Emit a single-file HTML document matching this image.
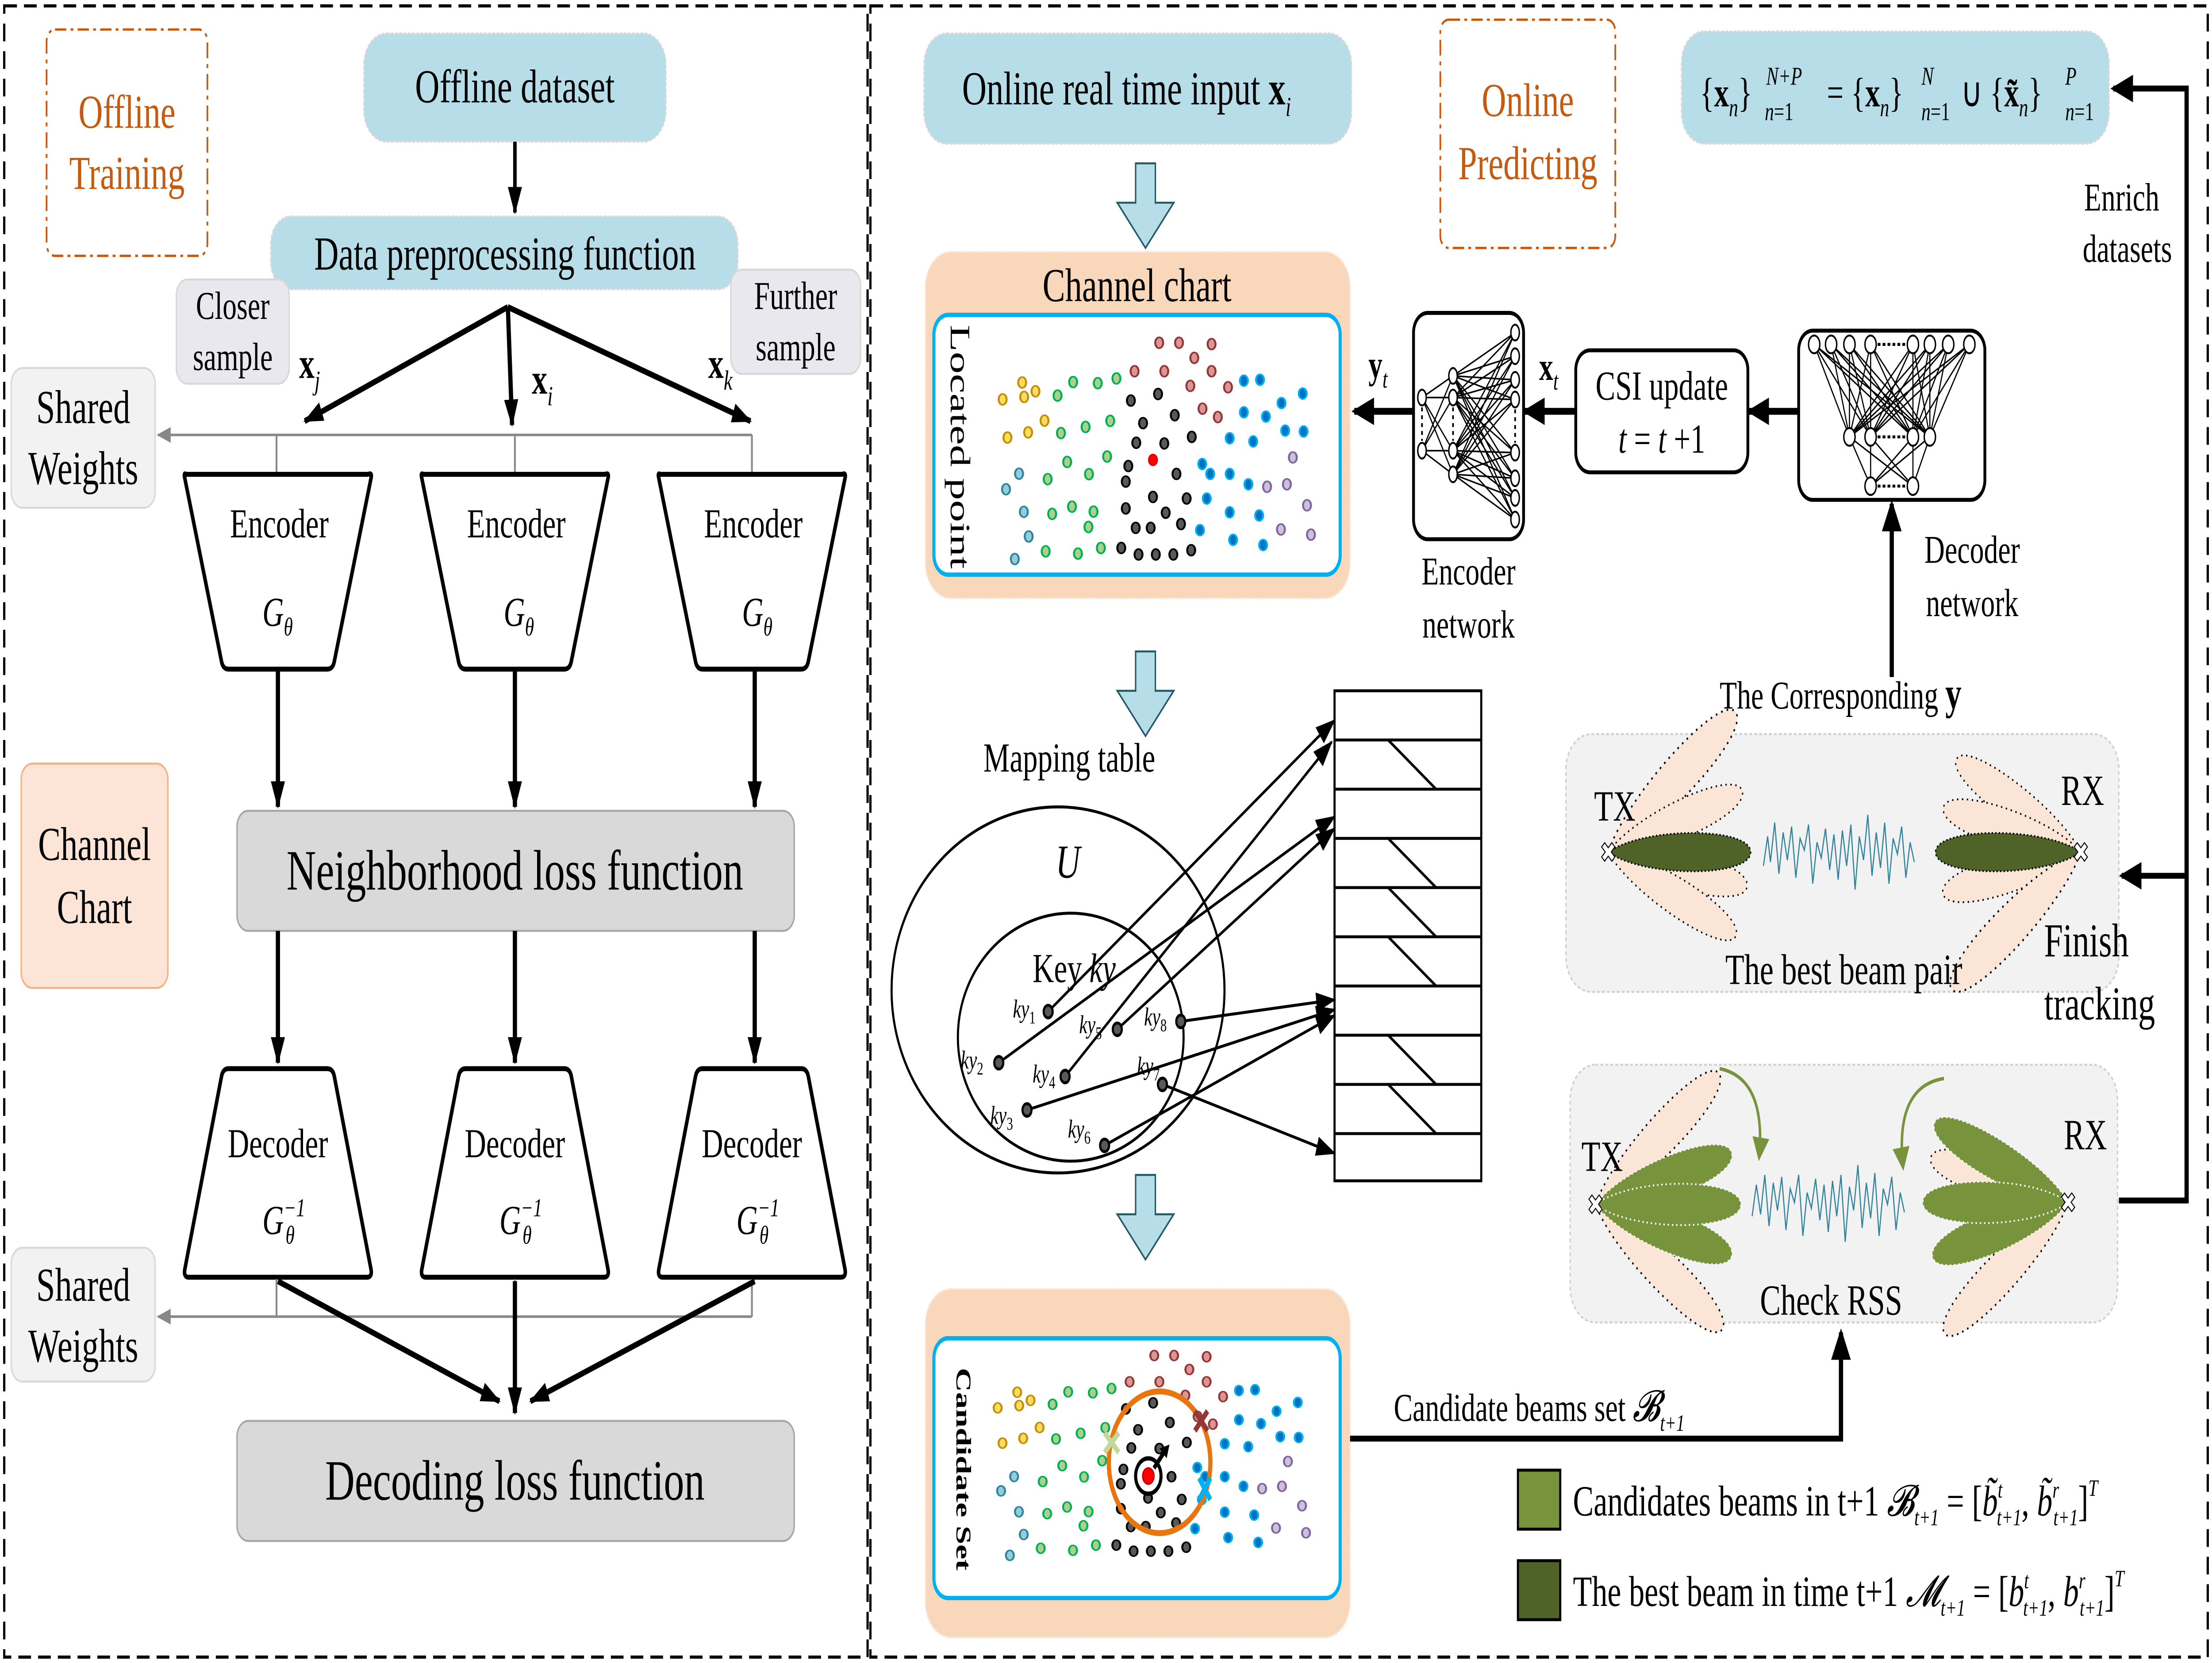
<!DOCTYPE html>
<html><head><meta charset="utf-8"><style>html,body{margin:0;padding:0;background:#fff;width:100%;height:100%;overflow:hidden}svg{display:block;width:100vw;height:100vh}text{font-family:"Liberation Serif",serif}</style></head><body>
<svg viewBox="0 0 1568 845" preserveAspectRatio="none" xmlns="http://www.w3.org/2000/svg">
<defs>
<marker id="ah" markerUnits="userSpaceOnUse" markerWidth="16" markerHeight="14" refX="14" refY="7" orient="auto"><path d="M0,0 L16,7 L0,14 Z" fill="#000"/></marker>
<marker id="ahs" markerUnits="userSpaceOnUse" markerWidth="14" markerHeight="10" refX="13" refY="5" orient="auto"><path d="M0,0 L14,5 L0,10 Z" fill="#000"/></marker>
<marker id="ahg" markerUnits="userSpaceOnUse" markerWidth="10" markerHeight="8" refX="9" refY="4" orient="auto"><path d="M0,0 L10,4 L0,8 Z" fill="#888"/></marker>
<marker id="ahgr" markerUnits="userSpaceOnUse" markerWidth="12" markerHeight="12" refX="10" refY="6" orient="auto"><path d="M0,0 L12,6 L0,12 Z" fill="#77933c"/></marker>
<g id="dots" stroke-width="7" vector-effect="non-scaling-stroke">
<g stroke="#943634" fill="#d99694"><ellipse cx="868" cy="460" rx="14" ry="24"/><ellipse cx="938" cy="460" rx="14" ry="24"/><ellipse cx="1053" cy="466" rx="14" ry="24"/><ellipse cx="992" cy="527" rx="14" ry="24"/><ellipse cx="781" cy="586" rx="14" ry="24"/><ellipse cx="886" cy="586" rx="14" ry="24"/><ellipse cx="1053" cy="586" rx="14" ry="24"/><ellipse cx="978" cy="651" rx="14" ry="24"/><ellipse cx="1111" cy="657" rx="14" ry="24"/><ellipse cx="1021" cy="752" rx="14" ry="24"/><ellipse cx="1075" cy="789" rx="14" ry="24"/></g>
<g stroke="#bf9000" fill="#ffd966"><ellipse cx="384" cy="636" rx="14" ry="24"/><ellipse cx="431" cy="675" rx="14" ry="24"/><ellipse cx="315" cy="711" rx="14" ry="24"/><ellipse cx="391" cy="700" rx="14" ry="24"/><ellipse cx="463" cy="805" rx="14" ry="24"/><ellipse cx="332" cy="880" rx="14" ry="24"/><ellipse cx="405" cy="857" rx="14" ry="24"/></g>
<g stroke="#00b050" fill="#a9d08e"><ellipse cx="564" cy="634" rx="14" ry="24"/><ellipse cx="651" cy="639" rx="14" ry="24"/><ellipse cx="717" cy="618" rx="14" ry="24"/><ellipse cx="509" cy="694" rx="14" ry="24"/><ellipse cx="608" cy="833" rx="14" ry="24"/><ellipse cx="695" cy="806" rx="14" ry="24"/><ellipse cx="521" cy="860" rx="14" ry="24"/><ellipse cx="543" cy="988" rx="14" ry="24"/><ellipse cx="684" cy="964" rx="14" ry="24"/><ellipse cx="620" cy="1042" rx="14" ry="24"/><ellipse cx="474" cy="1064" rx="14" ry="24"/><ellipse cx="560" cy="1186" rx="14" ry="24"/><ellipse cx="636" cy="1208" rx="14" ry="24"/><ellipse cx="490" cy="1218" rx="14" ry="24"/><ellipse cx="618" cy="1276" rx="14" ry="24"/><ellipse cx="467" cy="1384" rx="14" ry="24"/><ellipse cx="581" cy="1394" rx="14" ry="24"/><ellipse cx="662" cy="1369" rx="14" ry="24"/></g>
<g stroke="#31849b" fill="#92cddc"><ellipse cx="373" cy="1040" rx="14" ry="24"/><ellipse cx="327" cy="1109" rx="14" ry="24"/><ellipse cx="390" cy="1209" rx="14" ry="24"/><ellipse cx="407" cy="1318" rx="14" ry="24"/><ellipse cx="358" cy="1418" rx="14" ry="24"/></g>
<g stroke="#000" fill="#595959"><ellipse cx="768" cy="716" rx="14" ry="24"/><ellipse cx="864" cy="687" rx="14" ry="24"/><ellipse cx="923" cy="781" rx="14" ry="24"/><ellipse cx="811" cy="816" rx="14" ry="24"/><ellipse cx="787" cy="903" rx="14" ry="24"/><ellipse cx="886" cy="906" rx="14" ry="24"/><ellipse cx="983" cy="877" rx="14" ry="24"/><ellipse cx="759" cy="1006" rx="14" ry="24"/><ellipse cx="929" cy="1041" rx="14" ry="24"/><ellipse cx="750" cy="1075" rx="14" ry="24"/><ellipse cx="846" cy="1143" rx="14" ry="24"/><ellipse cx="965" cy="1150" rx="14" ry="24"/><ellipse cx="750" cy="1194" rx="14" ry="24"/><ellipse cx="891" cy="1213" rx="14" ry="24"/><ellipse cx="785" cy="1280" rx="14" ry="24"/><ellipse cx="838" cy="1280" rx="14" ry="24"/><ellipse cx="945" cy="1263" rx="14" ry="24"/><ellipse cx="734" cy="1369" rx="14" ry="24"/><ellipse cx="795" cy="1398" rx="14" ry="24"/><ellipse cx="856" cy="1398" rx="14" ry="24"/><ellipse cx="918" cy="1398" rx="14" ry="24"/><ellipse cx="981" cy="1379" rx="14" ry="24"/></g>
<g stroke="#e00" fill="#f00"><ellipse cx="846" cy="979" rx="14" ry="24"/></g>
<g stroke="#00b0f0" fill="#0070c0"><ellipse cx="1167" cy="628" rx="14" ry="24"/><ellipse cx="1224" cy="624" rx="14" ry="24"/><ellipse cx="1375" cy="685" rx="14" ry="24"/><ellipse cx="1300" cy="727" rx="14" ry="24"/><ellipse cx="1167" cy="768" rx="14" ry="24"/><ellipse cx="1245" cy="787" rx="14" ry="24"/><ellipse cx="1313" cy="849" rx="14" ry="24"/><ellipse cx="1378" cy="853" rx="14" ry="24"/><ellipse cx="1117" cy="883" rx="14" ry="24"/><ellipse cx="1200" cy="897" rx="14" ry="24"/><ellipse cx="1020" cy="997" rx="14" ry="24"/><ellipse cx="1048" cy="1041" rx="14" ry="24"/><ellipse cx="1117" cy="1041" rx="14" ry="24"/><ellipse cx="1183" cy="1087" rx="14" ry="24"/><ellipse cx="1036" cy="1150" rx="14" ry="24"/><ellipse cx="1117" cy="1211" rx="14" ry="24"/><ellipse cx="1221" cy="1225" rx="14" ry="24"/><ellipse cx="1012" cy="1290" rx="14" ry="24"/><ellipse cx="1129" cy="1333" rx="14" ry="24"/><ellipse cx="1235" cy="1356" rx="14" ry="24"/></g>
<g stroke="#8064a2" fill="#ccc0da"><ellipse cx="1340" cy="968" rx="14" ry="24"/><ellipse cx="1249" cy="1098" rx="14" ry="24"/><ellipse cx="1319" cy="1087" rx="14" ry="24"/><ellipse cx="1390" cy="1180" rx="14" ry="24"/><ellipse cx="1298" cy="1287" rx="14" ry="24"/><ellipse cx="1404" cy="1310" rx="14" ry="24"/></g>
</g>
</defs>

<rect x="3" y="3" width="612" height="839" fill="none" stroke="#000" stroke-width="1.6" stroke-dasharray="9,5"/>
<rect x="617" y="3" width="948" height="839" fill="none" stroke="#000" stroke-width="1.6" stroke-dasharray="9,5"/>

<rect x="33" y="15" width="114" height="115" rx="6" fill="none" stroke="#c55a11" stroke-width="1.2" stroke-dasharray="8,3,2,3"/>
<text x="90" y="65" font-size="24" fill="#c55a11" text-anchor="middle">Offline</text>
<text x="90" y="96" font-size="24" fill="#c55a11" text-anchor="middle">Training</text>

<rect x="258" y="17" width="214" height="55" rx="16" fill="#b7dde8" stroke="#d8d8d8" stroke-dasharray="2,1"/>
<text x="365" y="52" font-size="24" text-anchor="middle">Offline dataset</text>
<line x1="365" y1="72" x2="365" y2="108" stroke="#000" stroke-width="2.5" marker-end="url(#ahs)"/>
<rect x="192" y="110" width="331" height="37" rx="14" fill="#b7dde8" stroke="#d8d8d8" stroke-dasharray="2,1"/>
<text x="358" y="137" font-size="24" text-anchor="middle">Data preprocessing function</text>

<g stroke="#000" stroke-width="3">
<line x1="360" y1="156" x2="216" y2="214" marker-end="url(#ahs)"/>
<line x1="360" y1="156" x2="363" y2="216" marker-end="url(#ahs)"/>
<line x1="360" y1="156" x2="532" y2="214" marker-end="url(#ahs)"/>
</g>
<rect x="125" y="142" width="80" height="53" rx="8" fill="#e8e8ee" stroke="#d8d8d8"/>
<text x="165" y="162" font-size="20" text-anchor="middle">Closer</text>
<text x="165" y="188" font-size="20" text-anchor="middle">sample</text>
<rect x="518" y="137" width="92" height="53" rx="8" fill="#e8e8ee" stroke="#d8d8d8"/>
<text x="564" y="157" font-size="20" text-anchor="middle">Further</text>
<text x="564" y="183" font-size="20" text-anchor="middle">sample</text>
<text x="212" y="192" font-size="22" font-weight="bold">x<tspan font-size="14" font-style="italic" font-weight="normal" dy="6">j</tspan></text>
<text x="377" y="200" font-size="22" font-weight="bold">x<tspan font-size="14" font-style="italic" font-weight="normal" dy="6">i</tspan></text>
<text x="502" y="192" font-size="22" font-weight="bold">x<tspan font-size="14" font-style="italic" font-weight="normal" dy="6">k</tspan></text>

<rect x="8" y="187" width="102" height="71" rx="8" fill="#f2f2f2" stroke="#d8d8d8"/>
<text x="59" y="215" font-size="24" text-anchor="middle">Shared</text>
<text x="59" y="246" font-size="24" text-anchor="middle">Weights</text>
<line x1="533" y1="221" x2="112" y2="221" stroke="#888" stroke-width="1.3" marker-end="url(#ahg)"/>
<g stroke="#888" stroke-width="1.3"><line x1="196" y1="221" x2="196" y2="240"/><line x1="365" y1="221" x2="365" y2="240"/><line x1="533" y1="221" x2="533" y2="240"/></g>

<g fill="#fff" stroke="#000" stroke-width="2.5" stroke-linejoin="round">
<path d="M132,241 Q130,240 131,243 L157,336 Q158,340 162,340 L232,340 Q236,340 237,336 L263,243 Q264,240 261,241 Z"/>
<path d="M300,241 Q298,240 299,243 L325,336 Q326,340 330,340 L400,340 Q404,340 405,336 L431,243 Q432,240 429,241 Z"/>
<path d="M468,241 Q466,240 467,243 L493,336 Q494,340 498,340 L568,340 Q572,340 573,336 L599,243 Q600,240 597,241 Z"/>
</g>
<g font-size="21" text-anchor="middle"><text x="198" y="273">Encoder</text><text x="366" y="273">Encoder</text><text x="534" y="273">Encoder</text></g>
<g font-size="21" font-style="italic"><text x="186" y="318">G<tspan font-size="13" dy="5">θ</tspan></text><text x="357" y="318">G<tspan font-size="13" dy="5">θ</tspan></text><text x="526" y="318">G<tspan font-size="13" dy="5">θ</tspan></text></g>

<g stroke="#000" stroke-width="3">
<line x1="197" y1="340" x2="197" y2="410" marker-end="url(#ahs)"/>
<line x1="365" y1="340" x2="365" y2="410" marker-end="url(#ahs)"/>
<line x1="535" y1="340" x2="535" y2="410" marker-end="url(#ahs)"/>
</g>
<rect x="168" y="412" width="395" height="61" rx="8" fill="#d9d9d9" stroke="#a6a6a6"/>
<text x="365" y="452" font-size="29" text-anchor="middle">Neighborhood loss function</text>
<rect x="15" y="388" width="104" height="114" rx="8" fill="#fce4d6" stroke="#f4b183"/>
<text x="67" y="437" font-size="24" text-anchor="middle">Channel</text>
<text x="67" y="469" font-size="24" text-anchor="middle">Chart</text>

<g stroke="#000" stroke-width="3">
<line x1="197" y1="473" x2="197" y2="540" marker-end="url(#ahs)"/>
<line x1="365" y1="473" x2="365" y2="540" marker-end="url(#ahs)"/>
<line x1="535" y1="473" x2="535" y2="540" marker-end="url(#ahs)"/>
</g>
<g fill="#fff" stroke="#000" stroke-width="2.5" stroke-linejoin="round">
<path d="M162,543 Q158,543 157,547 L131,645 Q130,649 134,649 L260,649 Q264,649 263,645 L237,547 Q236,543 232,543 Z"/>
<path d="M330,543 Q326,543 325,547 L299,645 Q298,649 302,649 L428,649 Q432,649 431,645 L405,547 Q404,543 400,543 Z"/>
<path d="M498,543 Q494,543 493,547 L467,645 Q466,649 470,649 L596,649 Q600,649 599,645 L573,547 Q572,543 568,543 Z"/>
</g>
<g font-size="21" text-anchor="middle"><text x="197" y="588">Decoder</text><text x="365" y="588">Decoder</text><text x="533" y="588">Decoder</text></g>
<g font-size="21" font-style="italic"><text x="186" y="627">G<tspan font-size="13" dy="-9">−1</tspan><tspan font-size="13" dx="-14" dy="14">θ</tspan></text><text x="354" y="627">G<tspan font-size="13" dy="-9">−1</tspan><tspan font-size="13" dx="-14" dy="14">θ</tspan></text><text x="522" y="627">G<tspan font-size="13" dy="-9">−1</tspan><tspan font-size="13" dx="-14" dy="14">θ</tspan></text></g>

<rect x="8" y="634" width="102" height="68" rx="8" fill="#f2f2f2" stroke="#d8d8d8"/>
<text x="59" y="661" font-size="24" text-anchor="middle">Shared</text>
<text x="59" y="692" font-size="24" text-anchor="middle">Weights</text>
<line x1="533" y1="669" x2="112" y2="669" stroke="#888" stroke-width="1.3" marker-end="url(#ahg)"/>
<g stroke="#888" stroke-width="1.3"><line x1="196" y1="650" x2="196" y2="669"/><line x1="365" y1="650" x2="365" y2="669"/><line x1="533" y1="650" x2="533" y2="669"/></g>
<g stroke="#000" stroke-width="3">
<line x1="197" y1="651" x2="354" y2="712" marker-end="url(#ahs)"/>
<line x1="365" y1="651" x2="365" y2="718" marker-end="url(#ahs)"/>
<line x1="535" y1="651" x2="376" y2="712" marker-end="url(#ahs)"/>
</g>
<rect x="168" y="722" width="395" height="61" rx="8" fill="#d9d9d9" stroke="#a6a6a6"/>
<text x="365" y="762" font-size="29" text-anchor="middle">Decoding loss function</text>

<rect x="655" y="17" width="303" height="56" rx="16" fill="#b7dde8" stroke="#d8d8d8" stroke-dasharray="2,1"/>
<text x="682" y="53" font-size="24">Online real time input  <tspan font-weight="bold">x</tspan><tspan font-size="14" font-style="italic" dy="6">i</tspan></text>

<g fill="#b7dde8" stroke="#215967" stroke-width="1">
<path d="M805,83 L819,83 L819,103 L832,103 L812,126 L792,103 L805,103 Z"/>
<path d="M805,331 L819,331 L819,351 L832,351 L812,374 L792,351 L805,351 Z"/>
<path d="M805,597 L819,597 L819,617 L832,617 L812,640 L792,617 L805,617 Z"/>
</g>

<rect x="656" y="128" width="301" height="176" rx="18" fill="#f8d7bb" stroke="#fbe5d6" stroke-dasharray="2,1"/>
<text x="806" y="153" font-size="24" text-anchor="middle">Channel chart</text>
<rect x="662" y="160" width="288" height="132" rx="10" fill="#fff" stroke="#00b0f0" stroke-width="2.2"/>
<text transform="translate(674,165) rotate(90)" font-size="20" textLength="124" lengthAdjust="spacingAndGlyphs">Located point</text>
<g transform="translate(647.5,121.4) scale(0.2007,0.1147)"><use href="#dots"/></g>

<rect x="656" y="655" width="301" height="177" rx="18" fill="#f8d7bb" stroke="#fbe5d6" stroke-dasharray="2,1"/>
<rect x="662" y="680" width="288" height="132" rx="10" fill="#fff" stroke="#00b0f0" stroke-width="2.2"/>
<text transform="translate(678,695) rotate(90)" font-size="15" font-weight="bold" textLength="103" lengthAdjust="spacingAndGlyphs">Candidate Set</text>
<g transform="translate(644,640) scale(0.2007,0.1060)"><use href="#dots"/></g>
<circle cx="822" cy="743" r="36" fill="none" stroke="#e97511" stroke-width="3"/>
<circle cx="814" cy="750" r="9" fill="#fff" stroke="#000" stroke-width="2.2"/>
<circle cx="814" cy="750" r="4" fill="#f00" stroke="#c00"/>
<line x1="818" y1="746" x2="826" y2="737" stroke="#000" stroke-width="2.5"/>
<path d="M822,736 L829,734 L827,741 Z" fill="#000"/>
<g stroke="#c4d79b" stroke-width="3"><line x1="783" y1="728" x2="793" y2="738"/><line x1="793" y1="728" x2="783" y2="738"/></g>
<g stroke="#943634" stroke-width="3"><line x1="847" y1="717" x2="856" y2="727"/><line x1="856" y1="717" x2="847" y2="727"/></g>
<g stroke="#00b0f0" stroke-width="3"><line x1="850" y1="751" x2="858" y2="762"/><line x1="858" y1="751" x2="850" y2="762"/></g>

<text x="758" y="392" font-size="21" text-anchor="middle">Mapping table</text>
<ellipse cx="750" cy="503" rx="118" ry="93" fill="none" stroke="#000" stroke-width="1.5"/>
<ellipse cx="759" cy="527" rx="80" ry="63" fill="none" stroke="#000" stroke-width="1.5"/>
<text x="757" y="446" font-size="24" font-style="italic" text-anchor="middle">U</text>
<text x="732" y="499" font-size="21">Key <tspan font-style="italic">ky</tspan></text>
<g fill="none" stroke="#000" stroke-width="1.5">
<rect x="946" y="351" width="104" height="249"/>
<line x1="946" y1="376" x2="1050" y2="376"/><line x1="946" y1="401" x2="1050" y2="401"/><line x1="946" y1="426" x2="1050" y2="426"/><line x1="946" y1="451" x2="1050" y2="451"/><line x1="946" y1="476" x2="1050" y2="476"/><line x1="946" y1="501" x2="1050" y2="501"/><line x1="946" y1="526" x2="1050" y2="526"/><line x1="946" y1="551" x2="1050" y2="551"/><line x1="946" y1="576" x2="1050" y2="576"/>
<line x1="984" y1="376" x2="1018" y2="401"/><line x1="984" y1="426" x2="1018" y2="451"/><line x1="984" y1="451" x2="1018" y2="476"/><line x1="984" y1="476" x2="1018" y2="501"/><line x1="984" y1="526" x2="1018" y2="551"/><line x1="984" y1="551" x2="1018" y2="576"/>
</g>
<g stroke="#000" stroke-width="1.5" fill="none">
<line x1="743" y1="514" x2="946" y2="366" marker-end="url(#ahs)"/>
<line x1="755" y1="547" x2="944" y2="377" marker-end="url(#ahs)"/>
<line x1="708" y1="540" x2="946" y2="415" marker-end="url(#ahs)"/>
<line x1="792" y1="523" x2="946" y2="421" marker-end="url(#ahs)"/>
<line x1="837" y1="519" x2="946" y2="508" marker-end="url(#ahs)"/>
<line x1="728" y1="564" x2="946" y2="513" marker-end="url(#ahs)"/>
<line x1="783" y1="582" x2="946" y2="516" marker-end="url(#ahs)"/>
<line x1="824" y1="551" x2="946" y2="586" marker-end="url(#ahs)"/>
</g>
<g fill="#595959" stroke="#000" stroke-width="1.5">
<circle cx="743" cy="514" r="3.2"/><circle cx="708" cy="540" r="3.2"/><circle cx="728" cy="564" r="3.2"/><circle cx="755" cy="547" r="3.2"/><circle cx="792" cy="523" r="3.2"/><circle cx="783" cy="582" r="3.2"/><circle cx="824" cy="551" r="3.2"/><circle cx="837" cy="519" r="3.2"/>
</g>
<g font-size="13" font-style="italic">
<text x="718" y="517">ky<tspan font-size="9" font-style="normal" dy="3">1</tspan></text>
<text x="681" y="543">ky<tspan font-size="9" font-style="normal" dy="3">2</tspan></text>
<text x="702" y="571">ky<tspan font-size="9" font-style="normal" dy="3">3</tspan></text>
<text x="732" y="550">ky<tspan font-size="9" font-style="normal" dy="3">4</tspan></text>
<text x="765" y="525">ky<tspan font-size="9" font-style="normal" dy="3">5</tspan></text>
<text x="757" y="578">ky<tspan font-size="9" font-style="normal" dy="3">6</tspan></text>
<text x="806" y="546">ky<tspan font-size="9" font-style="normal" dy="3">7</tspan></text>
<text x="811" y="521">ky<tspan font-size="9" font-style="normal" dy="3">8</tspan></text>
</g>

<rect x="1021" y="10" width="124" height="116" rx="6" fill="none" stroke="#c55a11" stroke-width="1.2" stroke-dasharray="8,3,2,3"/>
<text x="1083" y="59" font-size="24" fill="#c55a11" text-anchor="middle">Online</text>
<text x="1083" y="91" font-size="24" fill="#c55a11" text-anchor="middle">Predicting</text>

<rect x="1002" y="159" width="78" height="115" rx="10" fill="#fff" stroke="#000" stroke-width="2"/>
<g stroke="#000" stroke-width="0.8">
<path d="M1008,202 L1030,191 M1008,202 L1030,202 M1008,202 L1030,229 M1008,202 L1030,241 M1008,229 L1030,191 M1008,229 L1030,202 M1008,229 L1030,229 M1008,229 L1030,241"/>
<path d="M1030,191 L1074,169 M1030,191 L1074,181 M1030,191 L1074,193 M1030,191 L1074,203 M1030,191 L1074,230 M1030,191 L1074,243 M1030,191 L1074,253 M1030,191 L1074,264
M1030,202 L1074,169 M1030,202 L1074,181 M1030,202 L1074,193 M1030,202 L1074,203 M1030,202 L1074,230 M1030,202 L1074,243 M1030,202 L1074,253 M1030,202 L1074,264
M1030,229 L1074,169 M1030,229 L1074,181 M1030,229 L1074,193 M1030,229 L1074,203 M1030,229 L1074,230 M1030,229 L1074,243 M1030,229 L1074,253 M1030,229 L1074,264
M1030,241 L1074,169 M1030,241 L1074,181 M1030,241 L1074,193 M1030,241 L1074,203 M1030,241 L1074,230 M1030,241 L1074,243 M1030,241 L1074,253 M1030,241 L1074,264"/>
<path d="M1008,207 V224 M1030,207 V224 M1074,208 V225" stroke-dasharray="2,2" stroke-width="1.2"/>
</g>
<g fill="#fff" stroke="#000" stroke-width="1">
<ellipse cx="1008" cy="202" rx="3" ry="4"/><ellipse cx="1008" cy="229" rx="3" ry="4"/>
<ellipse cx="1030" cy="191" rx="3" ry="4"/><ellipse cx="1030" cy="202" rx="3" ry="4"/><ellipse cx="1030" cy="229" rx="3" ry="4"/><ellipse cx="1030" cy="241" rx="3" ry="4"/>
<ellipse cx="1074" cy="169" rx="3" ry="4"/><ellipse cx="1074" cy="181" rx="3" ry="4"/><ellipse cx="1074" cy="193" rx="3" ry="4"/><ellipse cx="1074" cy="203" rx="3" ry="4"/><ellipse cx="1074" cy="230" rx="3" ry="4"/><ellipse cx="1074" cy="243" rx="3" ry="4"/><ellipse cx="1074" cy="253" rx="3" ry="4"/><ellipse cx="1074" cy="264" rx="3" ry="4"/>
</g>
<text x="1041" y="297" font-size="20" text-anchor="middle">Encoder</text>
<text x="1041" y="324" font-size="20" text-anchor="middle">network</text>
<line x1="1002" y1="209" x2="960" y2="209" stroke="#000" stroke-width="3.5" marker-end="url(#ah)"/>
<text x="970" y="192" font-size="20" font-weight="bold">y<tspan font-size="13" font-style="italic" font-weight="normal" dy="5">t</tspan></text>

<rect x="1117" y="178" width="122" height="62" rx="10" fill="#fff" stroke="#000" stroke-width="2"/>
<text x="1178" y="203" font-size="21" text-anchor="middle">CSI update</text>
<text x="1178" y="230" font-size="21" text-anchor="middle"><tspan font-style="italic">t</tspan> = <tspan font-style="italic">t</tspan> +1</text>
<line x1="1117" y1="209" x2="1081" y2="209" stroke="#000" stroke-width="3.5" marker-end="url(#ah)"/>
<text x="1091" y="193" font-size="20" font-weight="bold">x<tspan font-size="13" font-style="italic" font-weight="normal" dy="5">t</tspan></text>
<line x1="1274" y1="209" x2="1240" y2="209" stroke="#000" stroke-width="3.5" marker-end="url(#ah)"/>

<rect x="1275" y="168" width="132" height="86" rx="10" fill="#fff" stroke="#000" stroke-width="2"/>
<g stroke="#000" stroke-width="0.8">
<path d="M1286,175 L1311,222 M1286,175 L1326,222 M1286,175 L1356,222 M1286,175 L1368,222 M1298,175 L1311,222 M1298,175 L1326,222 M1298,175 L1356,222 M1298,175 L1368,222 M1311,175 L1311,222 M1311,175 L1326,222 M1311,175 L1356,222 M1311,175 L1368,222 M1326,175 L1311,222 M1326,175 L1326,222 M1326,175 L1356,222 M1326,175 L1368,222 M1356,175 L1311,222 M1356,175 L1326,222 M1356,175 L1356,222 M1356,175 L1368,222 M1368,175 L1311,222 M1368,175 L1326,222 M1368,175 L1356,222 M1368,175 L1368,222 M1381,175 L1311,222 M1381,175 L1326,222 M1381,175 L1356,222 M1381,175 L1368,222 M1396,175 L1311,222 M1396,175 L1326,222 M1396,175 L1356,222 M1396,175 L1368,222"/>
<path d="M1311,222 L1326,247 M1311,222 L1356,247 M1326,222 L1326,247 M1326,222 L1356,247 M1356,222 L1326,247 M1356,222 L1356,247 M1368,222 L1326,247 M1368,222 L1356,247"/>
<path d="M1331,175 H1351 M1331,222 H1351 M1331,247 H1351" stroke-dasharray="2,1.5" stroke-width="1.5"/>
</g>
<g fill="#fff" stroke="#000" stroke-width="1">
<ellipse cx="1286" cy="175" rx="4" ry="4.5"/><ellipse cx="1298" cy="175" rx="4" ry="4.5"/><ellipse cx="1311" cy="175" rx="4" ry="4.5"/><ellipse cx="1326" cy="175" rx="4" ry="4.5"/><ellipse cx="1356" cy="175" rx="4" ry="4.5"/><ellipse cx="1368" cy="175" rx="4" ry="4.5"/><ellipse cx="1381" cy="175" rx="4" ry="4.5"/><ellipse cx="1396" cy="175" rx="4" ry="4.5"/>
<ellipse cx="1311" cy="222" rx="4" ry="4.5"/><ellipse cx="1326" cy="222" rx="4" ry="4.5"/><ellipse cx="1356" cy="222" rx="4" ry="4.5"/><ellipse cx="1368" cy="222" rx="4" ry="4.5"/>
<ellipse cx="1326" cy="247" rx="4" ry="4.5"/><ellipse cx="1356" cy="247" rx="4" ry="4.5"/>
</g>
<line x1="1341" y1="344" x2="1341" y2="256" stroke="#000" stroke-width="3" marker-end="url(#ah)"/>
<text x="1398" y="286" font-size="20" text-anchor="middle">Decoder</text>
<text x="1398" y="313" font-size="20" text-anchor="middle">network</text>
<text x="1219" y="360" font-size="20">The Corresponding  <tspan font-weight="bold" font-size="23">y</tspan></text>

<rect x="1192" y="16" width="303" height="57" rx="16" fill="#b7dde8" stroke="#d8d8d8" stroke-dasharray="2,1"/>
<g font-size="21">
<text x="1205" y="54">{<tspan font-weight="bold">x</tspan><tspan font-style="italic" font-size="13" dy="5">n</tspan><tspan dy="-5">}</tspan></text>
<text x="1252" y="43" font-size="13" font-style="italic">N+P</text>
<text x="1251" y="61" font-size="13"><tspan font-style="italic">n</tspan>=1</text>
<text x="1295" y="54">= {<tspan font-weight="bold">x</tspan><tspan font-style="italic" font-size="13" dy="5">n</tspan><tspan dy="-5">}</tspan></text>
<text x="1362" y="43" font-size="13" font-style="italic">N</text>
<text x="1362" y="61" font-size="13"><tspan font-style="italic">n</tspan>=1</text>
<text x="1390" y="54">∪ {<tspan font-weight="bold">x̃</tspan><tspan font-style="italic" font-size="13" dy="5">n</tspan><tspan dy="-5">}</tspan></text>
<text x="1464" y="43" font-size="13" font-style="italic">P</text>
<text x="1464" y="61" font-size="13"><tspan font-style="italic">n</tspan>=1</text>
</g>
<polyline points="1550,610 1550,45 1498,45" fill="none" stroke="#000" stroke-width="3" marker-end="url(#ah)"/>
<line x1="1550" y1="445" x2="1504" y2="445" stroke="#000" stroke-width="3" marker-end="url(#ah)"/>
<line x1="1502" y1="610" x2="1551.5" y2="610" stroke="#000" stroke-width="3"/>
<text x="1504" y="107" font-size="20" text-anchor="middle">Enrich</text>
<text x="1508" y="133" font-size="20" text-anchor="middle">datasets</text>

<rect x="1110" y="373" width="392" height="131" rx="18" fill="#f2f2f2" stroke="#d0d0d0" stroke-dasharray="2,1.5"/>
<rect x="1113" y="541" width="388" height="131" rx="18" fill="#f2f2f2" stroke="#d0d0d0" stroke-dasharray="2,1.5"/>
<g fill="#fbe5d6" stroke="#000" stroke-width="0.9" stroke-dasharray="1,2.5">
<path d="M0,0 C25,-13 100,-13 100,0 C100,13 25,13 0,0Z" transform="translate(1140,433) rotate(-38) scale(1.15)"/>
<path d="M0,0 C25,-13 100,-13 100,0 C100,13 25,13 0,0Z" transform="translate(1140,433) rotate(-18)"/>
<path d="M0,0 C25,-13 100,-13 100,0 C100,13 25,13 0,0Z" transform="translate(1140,433) rotate(10)"/>
<path d="M0,0 C25,-13 100,-13 100,0 C100,13 25,13 0,0Z" transform="translate(1140,433) rotate(25)"/>
<path d="M0,0 C25,-13 100,-13 100,0 C100,13 25,13 0,0Z" transform="translate(1475,433) rotate(208)"/>
<path d="M0,0 C25,-13 100,-13 100,0 C100,13 25,13 0,0Z" transform="translate(1475,433) rotate(193)"/>
<path d="M0,0 C25,-13 100,-13 100,0 C100,13 25,13 0,0Z" transform="translate(1475,433) rotate(168)"/>
<path d="M0,0 C25,-13 100,-13 100,0 C100,13 25,13 0,0Z" transform="translate(1475,433) rotate(143) scale(1.15)"/>
<path d="M0,0 C25,-13 100,-13 100,0 C100,13 25,13 0,0Z" transform="translate(1131,612) rotate(-37) scale(1.1)"/>
<path d="M0,0 C25,-13 100,-13 100,0 C100,13 25,13 0,0Z" transform="translate(1131,612) rotate(35) scale(1.1)"/>
<path d="M0,0 C25,-13 100,-13 100,0 C100,13 25,13 0,0Z" transform="translate(1466,611) rotate(193)"/>
<path d="M0,0 C25,-13 100,-13 100,0 C100,13 25,13 0,0Z" transform="translate(1466,611) rotate(143) scale(1.1)"/>
</g>
<g fill="#4f6228" stroke="#000" stroke-width="0.9" stroke-dasharray="1,1.5">
<path d="M0,0 C25,-13 101,-13 101,0 C101,13 25,13 0,0Z" transform="translate(1140,433)"/>
<path d="M0,0 C25,-13 103,-13 103,0 C103,13 25,13 0,0Z" transform="translate(1475,433) rotate(180)"/>
</g>
<g fill="#77933c" stroke="#fff" stroke-width="0.9" stroke-dasharray="1,2">
<path d="M0,0 C25,-14 100,-14 100,0 C100,14 25,14 0,0Z" transform="translate(1131,612) rotate(-15)"/>
<path d="M0,0 C25,-14 100,-14 100,0 C100,14 25,14 0,0Z" transform="translate(1131,612) rotate(15)"/>
<path d="M0,0 C25,-14 103,-14 103,0 C103,14 25,14 0,0Z" transform="translate(1131,612)"/>
<path d="M0,0 C25,-14 103,-14 103,0 C103,14 25,14 0,0Z" transform="translate(1466,611) rotate(203)"/>
<path d="M0,0 C25,-14 100,-14 100,0 C100,14 25,14 0,0Z" transform="translate(1466,611) rotate(164)"/>
<path d="M0,0 C25,-14 103,-14 103,0 C103,14 25,14 0,0Z" transform="translate(1466,611) rotate(180)"/>
</g>
<g font-size="14" fill="#fff" stroke="#000" stroke-width="0.6" text-anchor="middle"><text x="1140" y="438">✖</text><text x="1475" y="438">✖</text><text x="1131" y="617">✖</text><text x="1466" y="616">✖</text></g>
<g fill="none" stroke="#31849b" stroke-width="0.8">
<polyline points="1250,440 1253,425 1255,438 1258,418 1261,444 1264,423 1267,437 1270,420 1273,446 1276,426 1279,432 1282,419 1285,449 1288,428 1291,436 1294,421 1297,442 1300,424 1303,447 1306,422 1309,440 1312,419 1315,452 1318,425 1321,437 1324,414 1327,445 1330,423 1333,441 1336,418 1339,449 1342,426 1345,434 1348,420 1351,446 1354,428 1357,438"/>
<polyline points="1242,618 1245,602 1248,617 1251,597 1254,623 1257,601 1260,615 1263,598 1266,625 1269,604 1272,611 1275,597 1278,628 1281,606 1284,614 1287,599 1290,620 1293,602 1296,626 1299,600 1302,618 1305,597 1308,631 1311,603 1314,615 1317,592 1320,624 1323,601 1326,619 1329,596 1332,628 1335,604 1338,612 1341,598 1344,625 1347,606 1350,616"/>
</g>
<path d="M1219,543 Q1252,548 1247,588" fill="none" stroke="#77933c" stroke-width="1.8" marker-end="url(#ahgr)"/>
<path d="M1378,548 Q1343,552 1349,593" fill="none" stroke="#77933c" stroke-width="1.8" marker-end="url(#ahgr)"/>
<g font-size="22">
<text x="1130" y="417">TX</text><text x="1461" y="409">RX</text>
<text x="1121" y="595">TX</text><text x="1463" y="584">RX</text>
<text x="1307" y="500" text-anchor="middle">The best beam pair</text>
<text x="1298" y="668" text-anchor="middle">Check RSS</text>
</g>
<text x="1449" y="486" font-size="24">Finish</text>
<text x="1449" y="518" font-size="24">tracking</text>

<polyline points="957,731 1305,731 1305,677" fill="none" stroke="#000" stroke-width="3" marker-end="url(#ah)"/>
<text x="988" y="722" font-size="20">Candidate beams set <tspan font-style="italic" font-size="22">𝓑</tspan><tspan font-size="12" font-style="italic" dy="5">t+1</tspan></text>

<rect x="1076" y="747" width="30" height="30" fill="#77933c" stroke="#000" stroke-width="1.5"/>
<rect x="1076" y="793" width="30" height="30" fill="#4f6228" stroke="#000" stroke-width="1.5"/>
<text x="1115" y="770" font-size="22">Candidates beams in t+1 <tspan font-style="italic">𝓑</tspan><tspan font-size="12" font-style="italic" dy="5">t+1</tspan><tspan dy="-5"> = [</tspan><tspan font-style="italic">b̃</tspan><tspan font-size="12" font-style="italic" dy="-9">t</tspan><tspan font-size="12" font-style="italic" dx="-4" dy="14">t+1</tspan><tspan dy="-5">, </tspan><tspan font-style="italic">b̃</tspan><tspan font-size="12" font-style="italic" dy="-9">r</tspan><tspan font-size="12" font-style="italic" dx="-4" dy="14">t+1</tspan><tspan dy="-5">]</tspan><tspan font-size="12" font-style="italic" dy="-10">T</tspan></text>
<text x="1115" y="816" font-size="22">The best beam in time t+1 <tspan font-style="italic">𝓜</tspan><tspan font-size="12" font-style="italic" dy="5">t+1</tspan><tspan dy="-5"> = [</tspan><tspan font-style="italic">b</tspan><tspan font-size="12" font-style="italic" dy="-9">t</tspan><tspan font-size="12" font-style="italic" dx="-4" dy="14">t+1</tspan><tspan dy="-5">, </tspan><tspan font-style="italic">b</tspan><tspan font-size="12" font-style="italic" dy="-9">r</tspan><tspan font-size="12" font-style="italic" dx="-4" dy="14">t+1</tspan><tspan dy="-5">]</tspan><tspan font-size="12" font-style="italic" dy="-10">T</tspan></text>
</svg>
</body></html>
